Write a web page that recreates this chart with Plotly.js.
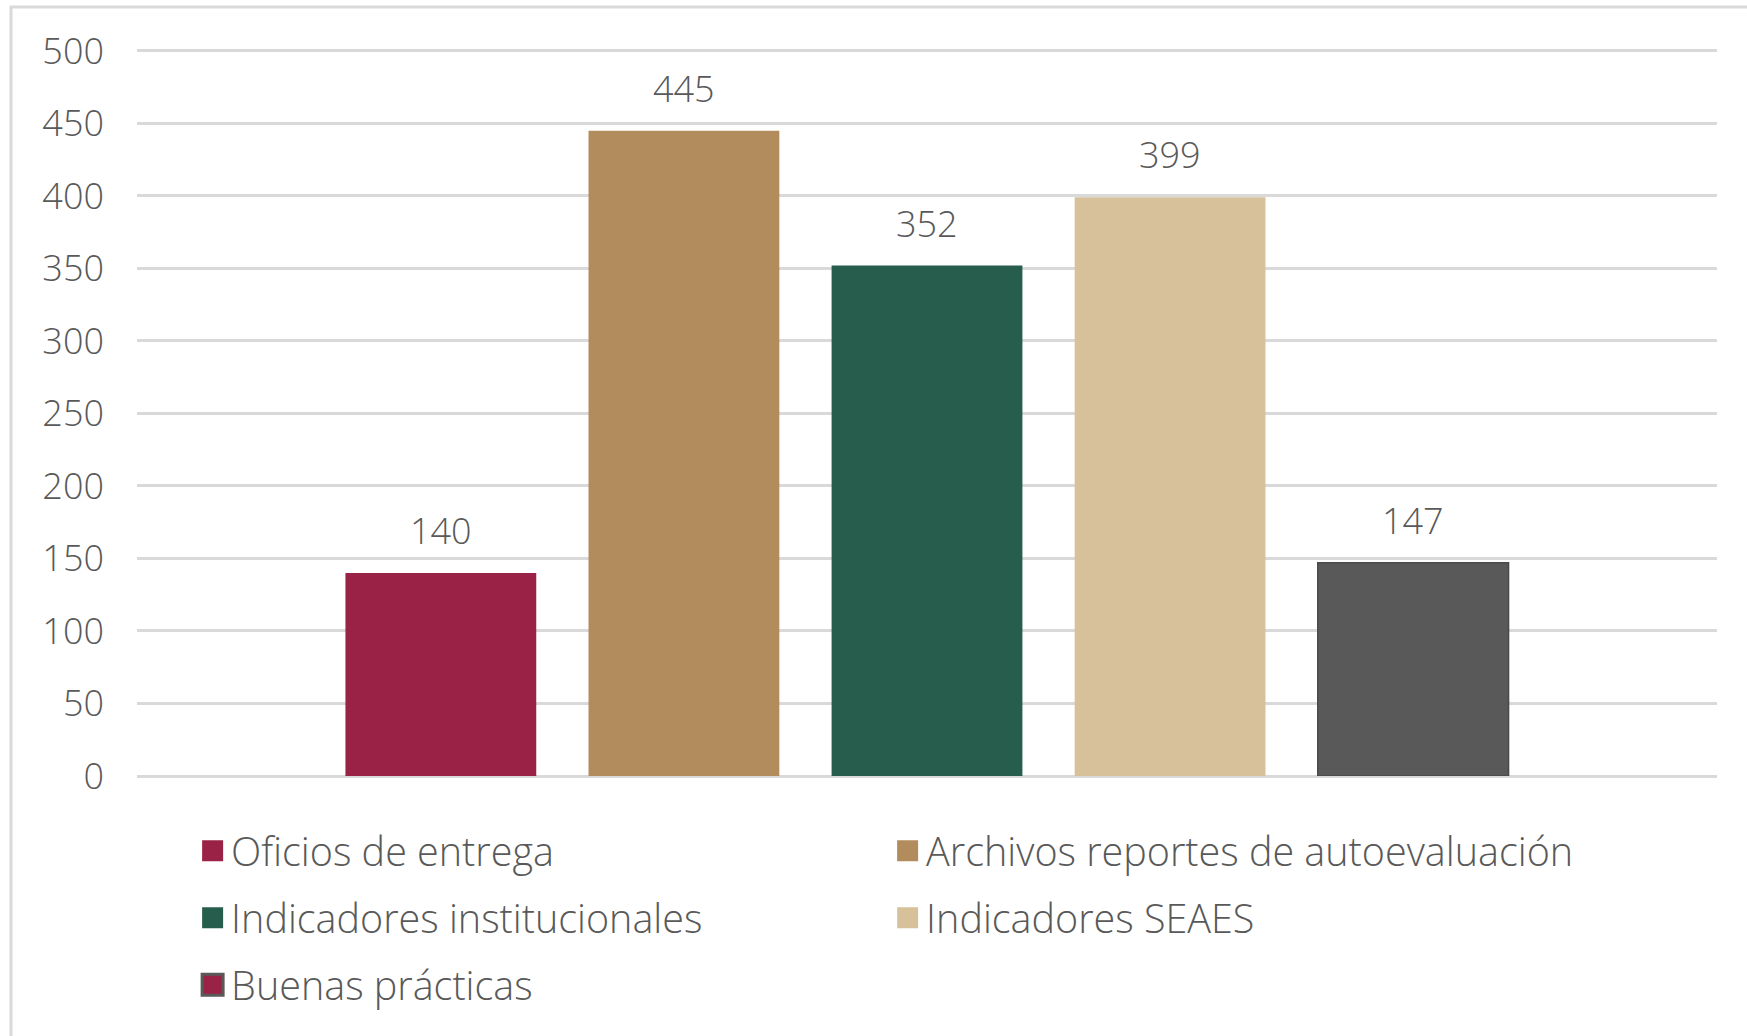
<!DOCTYPE html>
<html>
<head>
<meta charset="utf-8">
<script src="https://cdn.plot.ly/plotly-3.0.1.min.js"></script>
<style>
  html, body { margin: 0; padding: 0; background: #ffffff; }
  #chart { width: 1747px; height: 1036px; }
</style>
</head>
<body>
<div id="chart"></div>
<script>
// ---- data ----
var categories = [
  "Oficios de entrega",
  "Archivos reportes de autoevaluación",
  "Indicadores institucionales",
  "Indicadores SEAES",
  "Buenas prácticas"
];
var values = [140, 445, 352, 399, 147];
var barColors = ["#9B2247", "#B28C5C", "#275D4D", "#D6C19B", "#595959"];
var legendGroups = ["legend", "legend", "legend2", "legend2", "legend3"];
// the reference legend shows a maroon swatch with grey border for the last series
var lastLegendSwatch = { fill: "#9B2247", border: "#595959" };
var yTickValues = [0, 50, 100, 150, 200, 250, 300, 350, 400, 450, 500];

var textColor = "#595959";
var fontFamily = "'Open Sans', 'Liberation Sans', sans-serif";

var traces = categories.map(function (cat, i) {
  var last = i === categories.length - 1;
  return {
    type: "bar",
    x: [cat],
    y: [values[i]],
    name: cat,
    legend: legendGroups[i],
    showlegend: !last,
    marker: {
      color: barColors[i],
      line: last ? { color: "#4a4a4a", width: 1.5 } : { width: 0 }
    },
    hoverinfo: "x+y"
  };
});
// legend-only entry for the last series' swatch (draws nothing in the plot)
traces.push({
  type: "bar",
  x: [categories[categories.length - 1]],
  y: [values[categories.length - 1]],
  name: categories[categories.length - 1],
  legend: legendGroups[categories.length - 1],
  visible: "legendonly",
  showlegend: true,
  marker: { color: lastLegendSwatch.fill, line: { color: lastLegendSwatch.border, width: 3 } },
  hoverinfo: "skip"
});

var annotations = categories.map(function (cat, i) {
  return {
    x: cat,
    y: values[i],
    xref: "x",
    yref: "y",
    text: String(values[i]),
    showarrow: false,
    yanchor: "bottom",
    yshift: 16,
    font: { family: fontFamily, size: 36, color: textColor, weight: 300 }
  };
});

function legendCfg(yPos) {
  return {
    orientation: "h",
    xref: "container",
    yref: "container",
    x: 0.1094,
    y: yPos,
    xanchor: "left",
    yanchor: "middle",
    entrywidth: 650,
    entrywidthmode: "pixels",
    bgcolor: "rgba(0,0,0,0)",
    font: { family: fontFamily, size: 39.5, color: textColor, weight: 300 },
    itemclick: false,
    itemdoubleclick: false
  };
}

var layout = {
  width: 1747,
  height: 1036,
  margin: { l: 137, r: 30, t: 48, b: 260, pad: 0 },
  paper_bgcolor: "#ffffff",
  plot_bgcolor: "#ffffff",
  barmode: "overlay",
  bargap: 0.215,
  font: { family: fontFamily, color: textColor },
  xaxis: {
    type: "category",
    range: [-1.25, 5.25],
    showticklabels: false,
    showgrid: false,
    zeroline: false,
    showline: false,
    ticks: "",
    fixedrange: true
  },
  yaxis: {
    range: [0, 502],
    tickvals: yTickValues,
    ticktext: yTickValues.map(String),
    showgrid: true,
    gridcolor: "#d9d9d9",
    gridwidth: 2.5,
    zeroline: true,
    zerolinecolor: "#d9d9d9",
    zerolinewidth: 2.5,
    showline: false,
    ticks: "",
    ticklabelstandoff: 32,
    tickfont: { family: fontFamily, size: 36, color: textColor, weight: 300 },
    fixedrange: true
  },
  legend: legendCfg(1 - 851 / 1036),
  legend2: legendCfg(1 - 918 / 1036),
  legend3: legendCfg(1 - 985 / 1036),
  annotations: annotations,
  shapes: [{
    type: "rect",
    xref: "paper",
    yref: "paper",
    x0: (11 - 137) / 1580,
    x1: (1800 - 137) / 1580,
    y0: (776 - 1100) / 728,
    y1: (776 - 7) / 728,
    line: { color: "#d9d9d9", width: 3 },
    fillcolor: "rgba(0,0,0,0)",
    layer: "below"
  }],
  showlegend: true
};

// larger square legend swatches, full opacity for every entry
function styleLegend() {
  document.querySelectorAll("#chart g.traces").forEach(function (g) {
    g.style.opacity = "1";
  });
  document.querySelectorAll("#chart g.traces .legendpoints path").forEach(function (p) {
    p.removeAttribute("transform");
    p.setAttribute("d", "M32,10.5H11V-10.5H32Z");
  });
}

var gd = document.getElementById("chart");
Plotly.newPlot(gd, traces, layout, { displayModeBar: false }).then(function () {
  styleLegend();
  gd.on("plotly_afterplot", styleLegend);
  setTimeout(styleLegend, 50);
});
</script>
</body>
</html>
